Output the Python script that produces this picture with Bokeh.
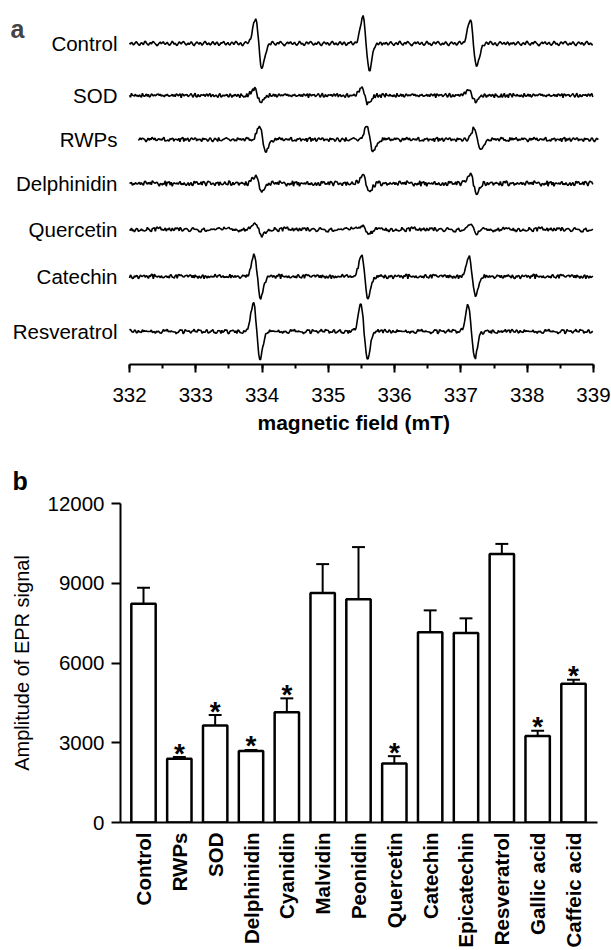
import numpy as np
from bokeh.plotting import figure
from bokeh.models import Range1d, SingleIntervalTicker, FixedTicker, Label, Title
from bokeh.core.properties import value
from bokeh.embed import file_html
from bokeh.resources import INLINE

FONT = "Liberation Sans"

# ---------------- panel a data (EPR spectra) ----------------
samples_a = ["Control", "SOD", "RWPs", "Delphinidin", "Quercetin", "Catechin", "Resveratrol"]
line_fields = [333.95, 335.57, 337.19]      # mT, centre of the three lines
line_width_pp = 0.10                        # mT, peak-to-peak width
peak_to_peak = [                            # a.u., per line
    [50, 52, 47],   # Control
    [14, 16, 12],   # SOD
    [25, 26, 23],   # RWPs
    [16, 17, 20],   # Delphinidin
    [11, 8, 10],    # Quercetin
    [42, 43, 39],   # Catechin
    [56, 54, 53],   # Resveratrol
]
field_shift = [0.0, -0.02, 0.06, 0.0, 0.0, -0.02, -0.03]
scan_start = [332.0, 332.0, 332.13, 332.0, 332.0, 332.0, 332.0]
scan_end = [339.0, 339.0, 339.08, 339.0, 339.0, 339.0, 339.0]
noise_level = [2.5, 2.5, 2.5, 3.0, 2.7, 2.5, 2.5]
# hand-read baseline jitter pattern (a.u.)
baseline_noise = [0.2, -0.3, 0.5, 0.1, -0.6, -0.2, 0.4, 0.7, 0.1, -0.4, -0.8, -0.1, 0.3, 0.0, -0.5, 0.6,
                  0.9, 0.2, -0.3, -0.7, 0.0, 0.4, -0.2, 0.5, 0.8, 0.3, -0.1, -0.6, -0.9, -0.3, 0.2, 0.6,
                  -0.1, 0.3, 0.7, 0.0, -0.4, 0.1, 0.5, -0.2, -0.7, -0.4, 0.2, 0.9, 0.4, -0.3, 0.1, -0.5,
                  -0.8, 0.0, 0.6, 0.3, -0.2, 0.4, 0.8, 0.5, -0.1, -0.6, -0.3, 0.2, -0.4, 0.1, 0.7, 0.2,
                  -0.5, -0.9, -0.2, 0.3, 0.6, 0.1, -0.3, 0.4, 0.0, -0.7, -0.2, 0.5, 0.9, 0.3, -0.4, -0.1,
                  0.2, -0.6, -0.3, 0.4, 0.7, 0.0, -0.5, 0.2, 0.6, -0.1, -0.8, -0.4, 0.3, 0.1, 0.5, 0.8,
                  -0.2, -0.6, 0.0, 0.4, -0.3, -0.7, 0.1, 0.6, 0.2, -0.4, 0.3, 0.9, 0.5, -0.2, -0.5, 0.0,
                  0.3, -0.6, -0.9, -0.1, 0.4, 0.7, 0.2, -0.3, 0.1, 0.5, -0.4, -0.2, 0.6, 0.3, -0.7, 0.0]
field_ticks_major = 1.0

# ---------------- panel b data (amplitudes) ----------------
categories = ["Control", "RWPs", "SOD", "Delphinidin", "Cyanidin", "Malvidin", "Peonidin",
              "Quercetin", "Catechin", "Epicatechin", "Resveratrol", "Gallic acid", "Caffeic acid"]
amplitude = [8230, 2400, 3650, 2690, 4150, 8630, 8400, 2220, 7160, 7130, 10100, 3250, 5220]
amplitude_sem = [600, 60, 390, 40, 520, 1090, 1960, 275, 820, 550, 380, 200, 150]
significant = [False, True, True, True, True, False, False, True, False, False, False, True, True]
y_ticks_b = [0, 3000, 6000, 9000, 12000]

# ---------------- layout constants ----------------
A_H, A_FRAME_H = 445, 364
row_screen_y = [43, 95, 139, 183, 229, 276, 331]

# ================= panel a =================
pa = figure(width=611, height=A_H, output_backend="svg", toolbar_location=None,
            x_range=Range1d(330.054, 339.272), y_range=Range1d(0, A_FRAME_H),
            min_border_left=0, min_border_right=0, min_border_top=0,
            min_border_bottom=A_H - A_FRAME_H, y_axis_location=None)
pa.outline_line_color = None
pa.xgrid.visible = False
pa.ygrid.visible = False

sigma = line_width_pp / 2.0
noise_arr = np.array(baseline_noise)
for i, name in enumerate(samples_a):
    xs = np.arange(scan_start[i], scan_end[i] + 1e-9, 0.015)
    ys = np.zeros_like(xs)
    for c, a in zip(line_fields, peak_to_peak[i]):
        d = (xs - c - field_shift[i]) / sigma
        ys += 0.5 * a * (-d) * np.exp(0.5 - 0.5 * d * d)
    idx = (np.arange(len(xs)) * (2 * i + 1) + 37 * i) % len(noise_arr)
    ys += noise_level[i] * noise_arr[idx]
    base = A_FRAME_H - row_screen_y[i]
    pa.line(xs, base + ys, line_color="black", line_width=1.6)

pa.text(x=[332.0] * len(samples_a), y=[A_FRAME_H - v for v in row_screen_y], text=samples_a,
        text_align="right", text_baseline="middle", x_offset=-12,
        text_font=value(FONT), text_font_size="20.5px", text_color="black")

ax = pa.xaxis[0]
ax.bounds = (332, 339)
ax.ticker = SingleIntervalTicker(interval=field_ticks_major, num_minor_ticks=2)
ax.major_tick_out = 8
ax.major_tick_in = 0
ax.minor_tick_out = 4
ax.minor_tick_in = 0
ax.axis_line_width = 2
ax.major_tick_line_width = 2
ax.minor_tick_line_width = 2
ax.major_label_standoff = 15
ax.major_label_text_font = FONT
ax.major_label_text_font_size = "20.5px"
ax.major_label_text_color = "black"

pa.add_layout(Title(text="magnetic field (mT)", align="left", offset=257, standoff=8,
                    text_font=FONT, text_font_size="21px", text_font_style="bold",
                    text_color="black"), "below")

pa.add_layout(Label(x=10, y=A_FRAME_H - 28, x_units="screen", y_units="screen", text="a",
                    text_font=FONT, text_font_size="25px", text_font_style="bold",
                    text_baseline="alphabetic"))

# ================= panel b =================
B_H = 950 - A_H
pb = figure(width=611, height=B_H, output_backend="svg", toolbar_location=None,
            x_range=Range1d(-0.642, 12.67), y_range=Range1d(0, 12000),
            min_border_left=120, min_border_right=14, min_border_top=58, min_border_bottom=128)
pb.outline_line_color = None
pb.xgrid.visible = False
pb.ygrid.visible = False

pb.title = Title(text="b", align="left", offset=-108, standoff=18,
                 text_font=FONT, text_font_size="25px", text_font_style="bold", text_color="black")

xb = np.arange(len(categories))
top = np.array(amplitude, dtype=float)
err = np.array(amplitude_sem, dtype=float)
pb.segment(x0=xb, y0=top, x1=xb, y1=top + err, line_color="black", line_width=2)
pb.segment(x0=xb - 0.18, y0=top + err, x1=xb + 0.18, y1=top + err, line_color="black", line_width=2)
pb.vbar(x=xb, top=top, width=0.68, bottom=0, fill_color="white", line_color="black", line_width=2.5)

sig_idx = [i for i, s in enumerate(significant) if s]
pb.text(x=[xb[i] for i in sig_idx], y=[top[i] + err[i] for i in sig_idx], text=["*"] * len(sig_idx),
        text_align="center", text_baseline="middle", y_offset=-4,
        text_font=value(FONT), text_font_size="28px", text_font_style="bold", text_color="black")

yax = pb.yaxis[0]
yax.ticker = FixedTicker(ticks=y_ticks_b)
yax.major_tick_out = 9
yax.major_tick_in = 0
yax.minor_tick_line_color = None
yax.axis_line_width = 2
yax.major_tick_line_width = 2
yax.major_label_standoff = 7
yax.major_label_text_font = FONT
yax.major_label_text_font_size = "20.5px"
yax.major_label_text_color = "black"
yax.axis_label = "Amplitude of EPR signal"
yax.axis_label_standoff = 11
yax.axis_label_text_font = FONT
yax.axis_label_text_font_size = "20px"
yax.axis_label_text_font_style = "normal"
yax.axis_label_text_color = "black"

xax = pb.xaxis[0]
xax.ticker = FixedTicker(ticks=list(xb))
xax.major_label_overrides = {int(i): c for i, c in zip(xb, categories)}
xax.major_label_orientation = np.pi / 2
xax.major_tick_line_color = None
xax.minor_tick_line_color = None
xax.major_tick_out = 0
xax.major_tick_in = 0
xax.axis_line_width = 2
xax.major_label_standoff = 10
xax.major_label_text_font = FONT
xax.major_label_text_font_size = "20.5px"
xax.major_label_text_font_style = "bold"
xax.major_label_text_color = "black"

open("out.html", "w").write(file_html([pa, pb], INLINE))
